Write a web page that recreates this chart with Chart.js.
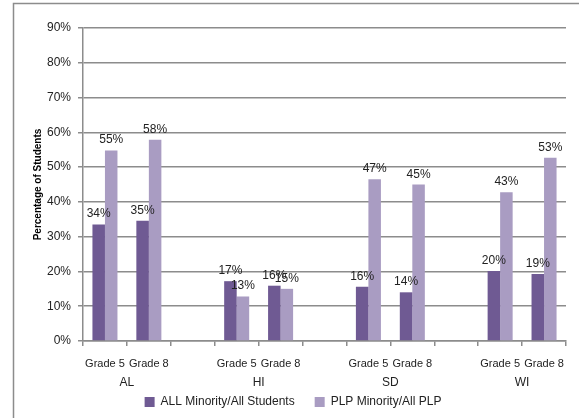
<!DOCTYPE html>
<html>
<head>
<meta charset="utf-8">
<script src="https://cdn.jsdelivr.net/npm/chart.js@4/dist/chart.umd.min.js"></script>
<style>
  body { margin: 0; background: #fff; }
  #wrap { width: 579px; height: 418px; position: relative; }
</style>
</head>
<body>
<div id="wrap"><canvas id="chart"></canvas></div>
<script>
// dados
const grades = ["Grade 5", "Grade 8", "", "Grade 5", "Grade 8", "", "Grade 5", "Grade 8", "", "Grade 5", "Grade 8"];
const states = ["AL", "HI", "SD", "WI"];
const stateStart = [0, 3, 6, 9]; // first slot of each state
const allMinority = [33.5, 34.6, null, 17.2, 15.9, null, 15.6, 14.0, null, 20.1, 19.3];
const plpMinority = [54.8, 57.9, null, 12.8, 15.0, null, 46.5, 45.0, null, 42.8, 52.7];
const yTicks = [0, 10, 20, 30, 40, 50, 60, 70, 80, 90];

const font = "'Liberation Sans', Arial, sans-serif";
const gridColor = "#8c8c8c";

// moldura
const frame = {
  id: "frame",
  beforeDraw(chart) {
    const ctx = chart.ctx;
    ctx.save();
    ctx.strokeStyle = "#8c8c8c";
    ctx.lineWidth = 1.5;
    ctx.strokeRect(13.5, 3.5, 600, 500);
    ctx.restore();
  }
};

// rótulos dos valores e estados
const labels = {
  id: "labels",
  afterDatasetsDraw(chart) {
    const ctx = chart.ctx;
    ctx.save();
    ctx.font = "12px " + font;
    ctx.fillStyle = "#222";
    ctx.textAlign = "center";
    ctx.textBaseline = "alphabetic";
    chart.data.datasets.forEach((ds, i) => {
      chart.getDatasetMeta(i).data.forEach((bar, j) => {
        if (ds.data[j] == null) return;
        ctx.fillText(Math.round(ds.data[j]) + "%", bar.x, bar.y - 7);
      });
    });
    const x = chart.scales.x;
    ctx.textBaseline = "middle";
    states.forEach((s, k) => {
      const a = x.getPixelForValue(stateStart[k]);
      const b = x.getPixelForValue(stateStart[k] + 1);
      ctx.fillText(s, (a + b) / 2, 383);
    });
    ctx.restore();
  }
};

new Chart(document.getElementById("chart"), {
  type: "bar",
  data: {
    labels: grades,
    datasets: [
      {
        label: "ALL Minority/All Students",
        data: allMinority,
        backgroundColor: "#6f5a93",
        categoryPercentage: 0.57,
        barPercentage: 1.0
      },
      {
        label: "PLP Minority/All PLP",
        data: plpMinority,
        backgroundColor: "#a99cc2",
        categoryPercentage: 0.57,
        barPercentage: 1.0
      }
    ]
  },
  options: {
    responsive: true,
    maintainAspectRatio: false,
    animation: false,
    layout: { padding: { left: 20, top: 28, right: 13, bottom: 0 } },
    plugins: {
      tooltip: { enabled: false },
      legend: {
        position: "bottom",
        labels: {
          font: { family: font, size: 12 },
          color: "#222",
          boxWidth: 10,
          boxHeight: 10,
          padding: 20
        }
      }
    },
    scales: {
      x: {
        grid: {
          display: true,
          drawOnChartArea: false,
          color: gridColor,
          lineWidth: 1.5,
          tickLength: 5,
          offset: true
        },
        border: { color: gridColor, width: 1.5 },
        ticks: {
          font: { family: font, size: 11 },
          color: "#222",
          padding: 11,
          maxRotation: 0,
          autoSkip: false
        },
        afterFit(scale) { scale.height = 35; }
      },
      y: {
        min: 0,
        max: 90,
        afterBuildTicks(scale) { scale.ticks = yTicks.map(v => ({ value: v })); },
        grid: { color: gridColor, lineWidth: 1.5, tickLength: 5 },
        border: { color: gridColor, width: 1.5 },
        ticks: {
          font: { family: font, size: 12 },
          color: "#222",
          padding: 7,
          callback: v => v + "%"
        },
        title: {
          display: true,
          text: "Percentage of Students",
          font: { family: font, size: 10, weight: "bold" },
          color: "#000",
          padding: { top: 12, bottom: 0 }
        },
        afterFit(scale) { scale.width = 63; }
      }
    }
  },
  plugins: [frame, labels]
});
</script>
</body>
</html>
